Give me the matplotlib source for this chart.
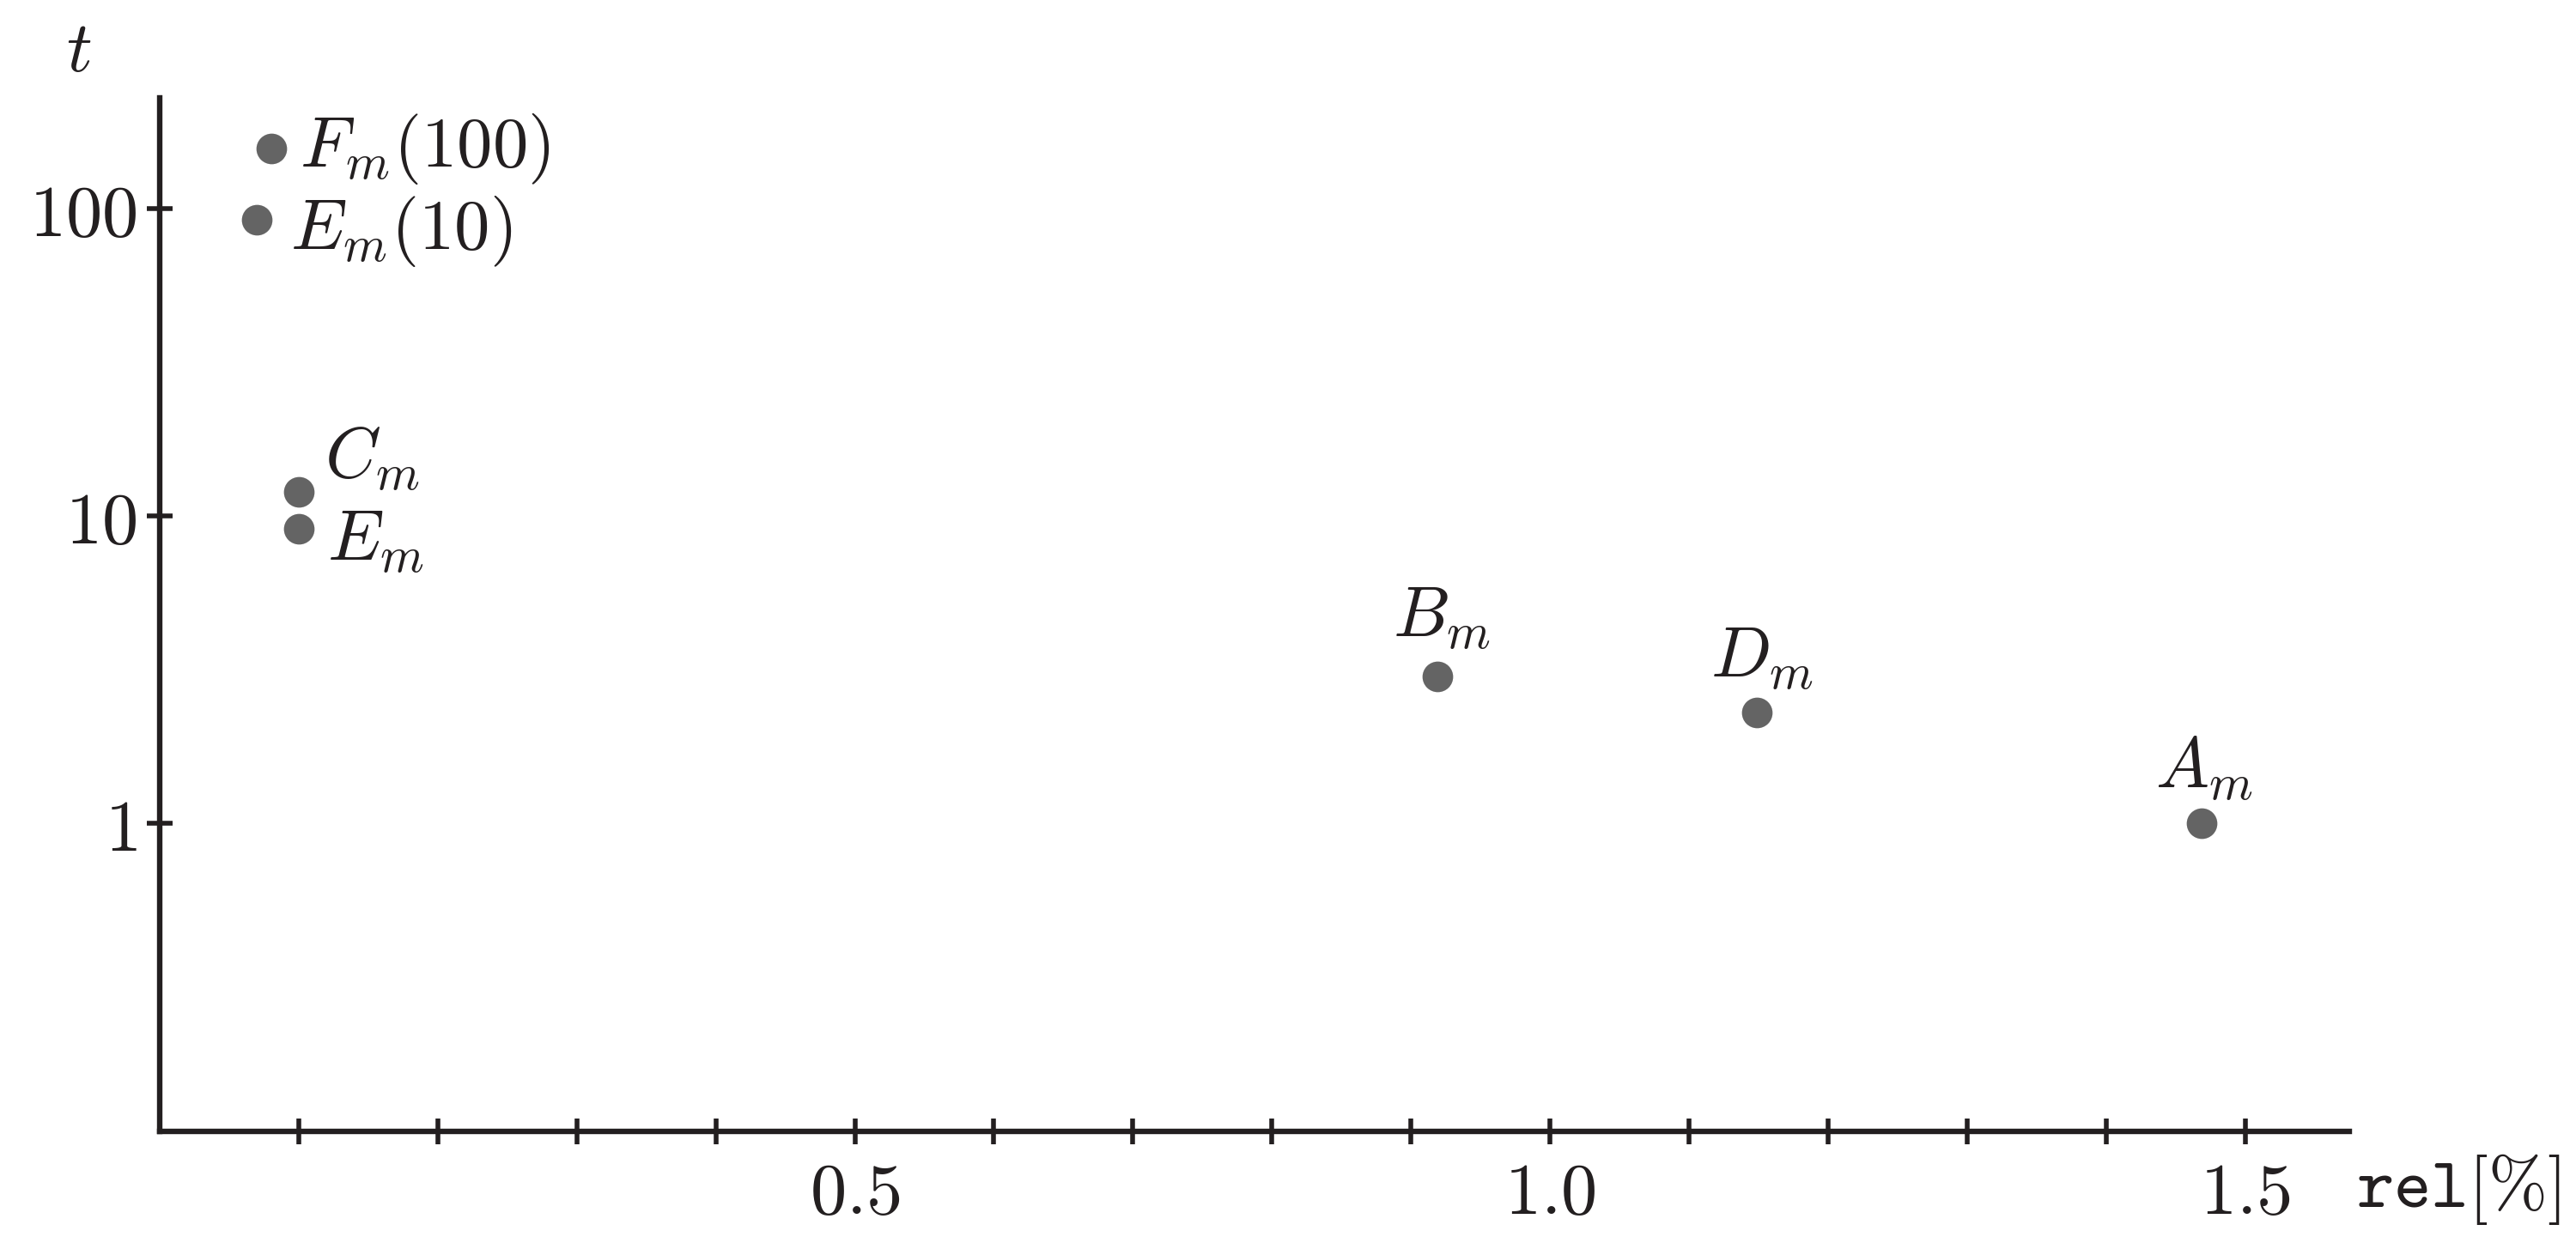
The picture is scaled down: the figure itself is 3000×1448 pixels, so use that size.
import matplotlib.pyplot as plt
import numpy as np

plt.rcParams['mathtext.fontset'] = 'cm'
plt.rcParams['font.family'] = 'serif'
plt.rcParams['font.serif'] = ['DejaVu Serif']

# data
names = [r'$F_m(100)$', r'$E_m(10)$', r'$C_m$', r'$E_m$', r'$B_m$', r'$D_m$', r'$A_m$']
rel = [0.080, 0.070, 0.100, 0.100, 0.919, 1.149, 1.469]
t = [156, 92, 12.0, 9.1, 3.0, 2.3, 1.0]

# label offsets (points) and alignment
offsets = [(12, 0), (14, -5), (11, 14), (12, -5), (2, 25), (2, 23), (1, 23)]
aligns = ['left', 'left', 'left', 'left', 'center', 'center', 'center']

xticks = np.round(np.arange(0.1, 1.51, 0.1), 1)
xlabels = ['$%.1f$' % v if v in (0.5, 1.0, 1.5) else '' for v in xticks]
yticks = [1, 10, 100]
ylabels = ['$1$', '$10$', '$100$']

ink = '#231f20'
fs = 29.8

fig = plt.figure(figsize=(15, 7.24), dpi=200)
ax = fig.add_axes([0.062, 0.09, 0.850, 0.831])

ax.scatter(rel, t, s=165, color='#646464', zorder=3, linewidths=0)
for name, x, y, off, ha in zip(names, rel, t, offsets, aligns):
    ax.annotate(name, (x, y), xytext=off, textcoords='offset points',
                ha=ha, va='center', fontsize=fs, color=ink)

ax.set_yscale('log')
ax.set_xlim(0, 1.575)
ax.set_ylim(0.1, 228)
ax.set_xticks(xticks)
ax.set_xticklabels(xlabels)
ax.set_yticks(yticks)
ax.set_yticklabels(ylabels)
ax.yaxis.set_minor_locator(plt.NullLocator())
ax.xaxis.set_minor_locator(plt.NullLocator())

for side in ['top', 'right']:
    ax.spines[side].set_visible(False)
for side in ['left', 'bottom']:
    ax.spines[side].set_linewidth(2.3)
    ax.spines[side].set_color(ink)
ax.tick_params(direction='inout', length=11, width=2, color=ink,
               labelsize=fs + 0.7, labelcolor=ink)
ax.tick_params(axis='x', pad=6)
ax.tick_params(axis='y', pad=4)

ax.annotate(r'$\mathtt{rel}[\%]$', (1.003, -0.056), xycoords='axes fraction',
            ha='left', va='center', fontsize=fs, color=ink)
ax.annotate(r'$t$', (-0.037, 1.045), xycoords='axes fraction',
            ha='center', va='center', fontsize=fs, color=ink)

fig.savefig('out.png', dpi=200, facecolor='white')
